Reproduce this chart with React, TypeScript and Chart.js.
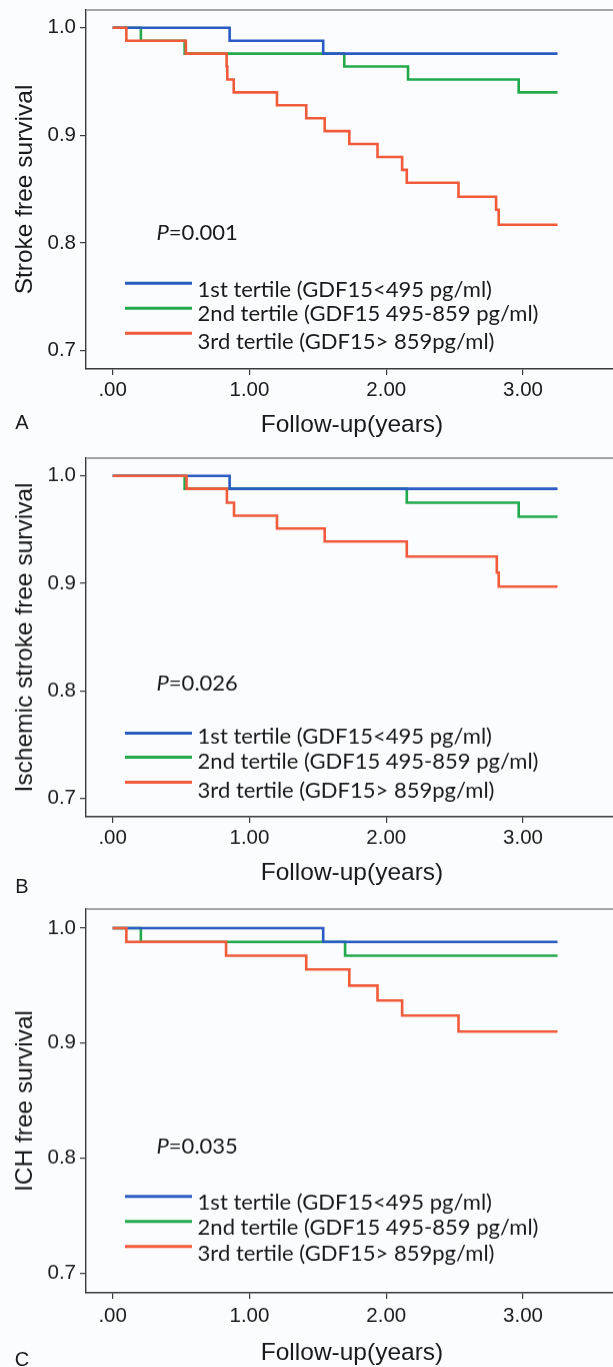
import React, { useEffect, useRef } from "react";
import { Chart, registerables } from "chart.js";

Chart.register(...registerables);

// ---------- shared axis / legend text ----------
const xTickValues = [0, 1, 2, 3];
const xTickLabels = [".00", "1.00", "2.00", "3.00"];
const yTickValues = [0.7, 0.8, 0.9, 1.0];
const yTickLabels = ["0.7", "0.8", "0.9", "1.0"];
const tertileLabels = [
  "1st tertile (GDF15<495 pg/ml)",
  "2nd tertile (GDF15 495-859 pg/ml)",
  "3rd tertile (GDF15> 859pg/ml)",
];
const tertileColors = ["#2a5bc3", "#22a94c", "#f15a3b"];
const xAxisTitle = "Follow-up(years)";

// ---------- Panel A: stroke free survival ----------
const strokeT1Time = [0, 0.855, 1.539, 3.252];
const strokeT1Surv = [1.0, 0.988, 0.976, 0.976];
const strokeT2Time = [0, 0.206, 0.526, 1.693, 2.159, 2.968, 3.252];
const strokeT2Surv = [1.0, 0.988, 0.976, 0.964, 0.952, 0.94, 0.94];
const strokeT3Time = [0, 0.1, 0.535, 0.833, 0.838, 0.885, 1.201, 1.415, 1.55, 1.73, 1.936, 2.116, 2.15, 2.528, 2.803, 2.822, 3.252];
const strokeT3Surv = [1.0, 0.988, 0.976, 0.964, 0.952, 0.94, 0.928, 0.916, 0.904, 0.892, 0.88, 0.868, 0.856, 0.843, 0.831, 0.817, 0.817];

// ---------- Panel B: ischemic stroke free survival ----------
const ischT1Time = [0, 0.855, 3.252];
const ischT1Surv = [1.0, 0.988, 0.988];
const ischT2Time = [0, 0.526, 2.15, 2.968, 3.252];
const ischT2Surv = [1.0, 0.988, 0.975, 0.962, 0.962];
const ischT3Time = [0, 0.54, 0.835, 0.887, 1.201, 1.55, 2.15, 2.808, 2.822, 3.252];
const ischT3Surv = [1.0, 0.988, 0.975, 0.963, 0.951, 0.939, 0.925, 0.91, 0.897, 0.897];

// ---------- Panel C: ICH free survival ----------
const ichT1Time = [0, 1.539, 3.252];
const ichT1Surv = [1.0, 0.988, 0.988];
const ichT2Time = [0, 0.206, 1.699, 3.252];
const ichT2Surv = [1.0, 0.988, 0.976, 0.976];
const ichT3Time = [0, 0.1, 0.829, 1.415, 1.73, 1.936, 2.116, 2.528, 3.252];
const ichT3Surv = [1.0, 0.988, 0.976, 0.964, 0.95, 0.937, 0.924, 0.91, 0.91];

const panelTitles = ["Stroke free survival", "Ischemic stroke free survival", "ICH free survival"];
const panelPValues = ["0.001", "0.026", "0.035"];
const panelLetters = ["A", "B", "C"];

const AXIS_FONT = "'Liberation Sans', Arial, sans-serif";
const LEGEND_FONT = "Lato, 'Open Sans', sans-serif";
const BG = "#fbfcfd";
const AXIS_COLOR = "#3a3a3a";

const CANVAS_W = 618;
const X_AXIS_H = 90;
const TOP_EXTRA = 30;
const TICK_SIZE = 20.5;
const TITLE_SIZE = 24.5;
const LEGEND_SIZE = 22;

type Layout = {
  frameTop: number;
  axisY: number;
  tickPad: number;
  titleOffset: number;
  letterOffset: number;
  legendLineTop: number[];
  legendTextTop: number[];
  pTop: number;
};

const layouts: Layout[] = [
  { frameTop: 10, axisY: 369, tickPad: 3.4, titleOffset: 56, letterOffset: 54, legendLineTop: [273.3, 298.3, 323.3], legendTextTop: [279.5, 304, 331.7], pTop: 223.3 },
  { frameTop: 458.3, axisY: 816.7, tickPad: 3.0, titleOffset: 56, letterOffset: 70, legendLineTop: [274.4, 298.4, 323.4], legendTextTop: [277.7, 303.4, 331.7], pTop: 225 },
  { frameTop: 909, axisY: 1292.7, tickPad: 4.7, titleOffset: 60.3, letterOffset: 67, legendLineTop: [286.7, 311.7, 336.7], legendTextTop: [292.7, 317.7, 344.3], pTop: 236.5 },
];

const panelSeries = [
  [
    [strokeT1Time, strokeT1Surv],
    [strokeT2Time, strokeT2Surv],
    [strokeT3Time, strokeT3Surv],
  ],
  [
    [ischT1Time, ischT1Surv],
    [ischT2Time, ischT2Surv],
    [ischT3Time, ischT3Surv],
  ],
  [
    [ichT1Time, ichT1Surv],
    [ichT2Time, ichT2Surv],
    [ichT3Time, ichT3Surv],
  ],
];

const overlayPlugin = {
  id: "overlay",
  afterDraw(chart: any, _args: any, opts: any) {
    const { ctx, chartArea } = chart;
    const L: Layout = opts.layout;
    ctx.save();
    // top frame line
    ctx.strokeStyle = "#8a8a8a";
    ctx.lineWidth = 1.5;
    ctx.beginPath();
    ctx.moveTo(chartArea.left, chartArea.top);
    ctx.lineTo(chartArea.right, chartArea.top);
    ctx.stroke();

    // legend
    const lx0 = chartArea.left + 39;
    const lx1 = chartArea.left + 106;
    const tx = chartArea.left + 111.6;
    ctx.font = LEGEND_SIZE + "px " + LEGEND_FONT;
    ctx.textBaseline = "middle";
    ctx.textAlign = "left";
    tertileLabels.forEach((label, i) => {
      ctx.strokeStyle = tertileColors[i];
      ctx.lineWidth = 3;
      ctx.beginPath();
      ctx.moveTo(lx0, chartArea.top + L.legendLineTop[i]);
      ctx.lineTo(lx1, chartArea.top + L.legendLineTop[i]);
      ctx.stroke();
      ctx.fillStyle = "#1a1a1a";
      ctx.fillText(label, tx, chartArea.top + L.legendTextTop[i]);
    });

    // P value
    const px = chartArea.left + 70.5;
    const py = chartArea.top + L.pTop;
    ctx.font = "italic " + LEGEND_SIZE + "px " + LEGEND_FONT;
    ctx.fillText("P", px, py);
    const pw = ctx.measureText("P").width;
    ctx.font = LEGEND_SIZE + "px " + LEGEND_FONT;
    ctx.fillText("=" + opts.p, px + pw, py);

    // panel letter
    ctx.font = "20px " + AXIS_FONT;
    ctx.textAlign = "center";
    ctx.fillText(opts.letter, 22, chartArea.bottom + L.letterOffset);
    ctx.restore();
  },
};

function KMPanel({ index }: { index: number }) {
  const ref = useRef<HTMLCanvasElement>(null);
  const L = layouts[index];
  const canvasTop = L.frameTop - TOP_EXTRA;
  const canvasH = L.axisY - canvasTop + X_AXIS_H;

  useEffect(() => {
    const canvas = ref.current!;
    const series = panelSeries[index];
    const orders = [1, 2, 0];
    const titleHalf = (TITLE_SIZE * 1.2) / 2;
    const chart = new Chart(canvas, {
      type: "line",
      data: {
        datasets: series.map(([times, survs], i) => ({
          label: tertileLabels[i],
          data: times.map((t, k) => ({ x: t, y: survs[k] })),
          borderColor: tertileColors[i],
          borderWidth: 2.6,
          stepped: "before" as const,
          pointRadius: 0,
          fill: false,
          order: orders[i],
        })),
      },
      options: {
        responsive: false,
        maintainAspectRatio: false,
        animation: false,
        events: [],
        layout: { padding: { top: TOP_EXTRA, left: 0, right: 0, bottom: 0 } },
        plugins: {
          legend: { display: false },
          tooltip: { enabled: false },
          title: { display: false },
          overlay: { layout: L, p: panelPValues[index], letter: panelLetters[index] },
        } as any,
        scales: {
          x: {
            type: "linear",
            min: -0.195,
            max: 3.694,
            afterBuildTicks: (scale: any) => {
              scale.ticks = xTickValues.map((v) => ({ value: v }));
            },
            afterFit: (scale: any) => {
              scale.height = X_AXIS_H;
            },
            ticks: {
              autoSkip: false,
              maxRotation: 0,
              padding: L.tickPad,
              color: "#1a1a1a",
              font: { family: AXIS_FONT, size: TICK_SIZE },
              callback: (_v: any, i: number) => xTickLabels[i],
            },
            grid: {
              drawOnChartArea: false,
              drawTicks: true,
              tickLength: 6,
              color: AXIS_COLOR,
              lineWidth: 1.2,
            },
            border: { display: true, color: AXIS_COLOR, width: 1.4 },
            title: {
              display: true,
              text: xAxisTitle,
              color: "#1a1a1a",
              font: { family: AXIS_FONT, size: TITLE_SIZE },
              padding: { top: 0, bottom: X_AXIS_H - titleHalf - L.titleOffset },
            },
          },
          y: {
            type: "linear",
            min: 0.683,
            max: 1.0165,
            afterBuildTicks: (scale: any) => {
              scale.ticks = yTickValues.map((v) => ({ value: v }));
            },
            afterFit: (scale: any) => {
              scale.width = 86;
            },
            ticks: {
              padding: 4,
              color: "#1a1a1a",
              font: { family: AXIS_FONT, size: TICK_SIZE },
              callback: (_v: any, i: number) => yTickLabels[i],
            },
            grid: {
              drawOnChartArea: false,
              drawTicks: true,
              tickLength: 6,
              color: AXIS_COLOR,
              lineWidth: 1.2,
            },
            border: { display: true, color: AXIS_COLOR, width: 1.4 },
            title: {
              display: true,
              text: panelTitles[index],
              color: "#1a1a1a",
              font: { family: AXIS_FONT, size: TITLE_SIZE },
              padding: { top: 10.5, bottom: 0 },
            },
          },
        },
      },
      plugins: [overlayPlugin],
    });
    return () => chart.destroy();
  }, [index]);

  return (
    <canvas
      ref={ref}
      width={CANVAS_W}
      height={canvasH}
      style={{ position: "absolute", left: 0, top: canvasTop, width: CANVAS_W, height: canvasH }}
    />
  );
}

export default function App() {
  return (
    <div
      style={{
        position: "absolute",
        left: 0,
        top: 0,
        width: 613,
        height: 1367,
        overflow: "hidden",
        background: BG,
      }}
    >
      <KMPanel index={0} />
      <KMPanel index={1} />
      <KMPanel index={2} />
    </div>
  );
}
